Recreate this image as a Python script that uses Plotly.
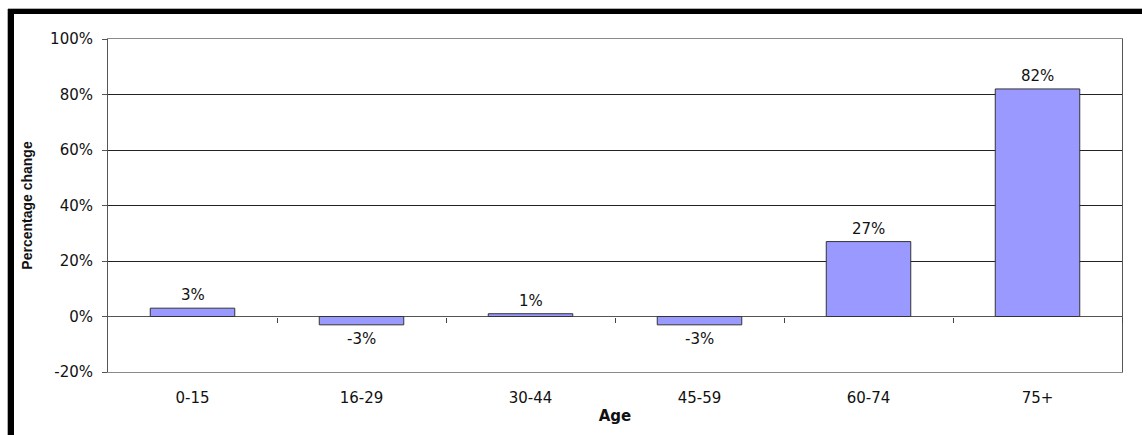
import numpy as np
import plotly.graph_objects as go

# Percentage change in population by age band
age_groups = ["0-15", "16-29", "30-44", "45-59", "60-74", "75+"]
pct_change = [3, -3, 1, -3, 27, 82]
y_ticks = [-20, 0, 20, 40, 60, 80, 100]
y_tick_text = [f"{v}%" for v in y_ticks]

W, H = 1142, 435
M = dict(l=108, r=20, t=39, b=63)
PW = W - M["l"] - M["r"]
PH = H - M["t"] - M["b"]


def px_x(x):
    return (x - M["l"]) / PW


def px_y(y):
    return (H - M["b"] - y) / PH


TXT = "#111111"
TICK_FONT = dict(family="DejaVu Sans, Arial, sans-serif", size=15, color=TXT)

fig = go.Figure()
fig.add_trace(go.Bar(
    x=age_groups,
    y=pct_change,
    marker=dict(color="#9999FF", line=dict(color="#333333", width=1)),
    width=0.5,
    hoverinfo="skip",
))

# value labels above positive bars and below negative ones
for cat, v in zip(age_groups, pct_change):
    fig.add_annotation(
        x=cat, y=v, text=f"{v}%", showarrow=False,
        yanchor="bottom" if v >= 0 else "top",
        yshift=2 if v >= 0 else -3,
        font=TICK_FONT,
    )

# category boundary ticks hanging from the zero line
n = len(age_groups)
boundaries = list(np.arange(n) + 0.5)
fig.add_trace(go.Scatter(x=[-0.5, n - 0.5], y=[0, 0], xaxis="x2", mode="lines",
                         line=dict(width=0), hoverinfo="skip", showlegend=False))

y_lo, y_hi = y_ticks[0], y_ticks[-1]
fig.update_layout(
    width=W, height=H,
    margin=M,
    paper_bgcolor="white",
    plot_bgcolor="white",
    showlegend=False,
    xaxis=dict(
        type="category",
        range=[-0.5, n - 0.5],
        showgrid=False,
        showline=True, linecolor="#8a8a8a", linewidth=1, mirror=True,
        ticks="", tickfont=TICK_FONT, ticklabelstandoff=12,
        title=dict(text="<b>Age</b>", standoff=4,
                   font=dict(family="DejaVu Sans, Arial, sans-serif", size=15, color=TXT)),
    ),
    xaxis2=dict(
        overlaying="x", anchor="free", position=(0 - y_lo) / (y_hi - y_lo),
        range=[-0.5, n - 0.5], tickvals=boundaries,
        showticklabels=False, ticks="outside", ticklen=5, tickcolor="#444",
        showline=False, showgrid=False, zeroline=False,
    ),
    yaxis=dict(
        range=[y_lo, y_hi], tickvals=y_ticks, ticktext=y_tick_text,
        showgrid=True, gridcolor="#222222", gridwidth=1,
        zeroline=True, zerolinecolor="#555555", zerolinewidth=1,
        showline=True, linecolor="#555555", linewidth=1, mirror=True,
        ticks="outside", ticklen=5, tickcolor="#555555",
        tickfont=TICK_FONT, ticklabelstandoff=6,
        title=dict(text="<b>Percentage change</b>", standoff=14,
                   font=dict(family="Liberation Sans, Arial, sans-serif", size=14, color=TXT)),
    ),
    shapes=[
        # black page frame (top and left edges)
        dict(type="rect", xref="paper", yref="paper", layer="above",
             x0=px_x(8), x1=px_x(W), y0=px_y(9), y1=px_y(14),
             fillcolor="black", line=dict(width=0)),
        dict(type="rect", xref="paper", yref="paper", layer="above",
             x0=px_x(8), x1=px_x(14), y0=px_y(9), y1=px_y(H),
             fillcolor="black", line=dict(width=0)),
        dict(type="line", xref="paper", yref="paper",
             x0=px_x(8), x1=px_x(W), y0=px_y(8.5), y1=px_y(8.5),
             line=dict(color="#b0b0b0", width=1)),
        dict(type="line", xref="paper", yref="paper",
             x0=px_x(7.5), x1=px_x(7.5), y0=px_y(9), y1=px_y(H),
             line=dict(color="#b0b0b0", width=1)),
    ],
)

fig.write_html("out.html")
